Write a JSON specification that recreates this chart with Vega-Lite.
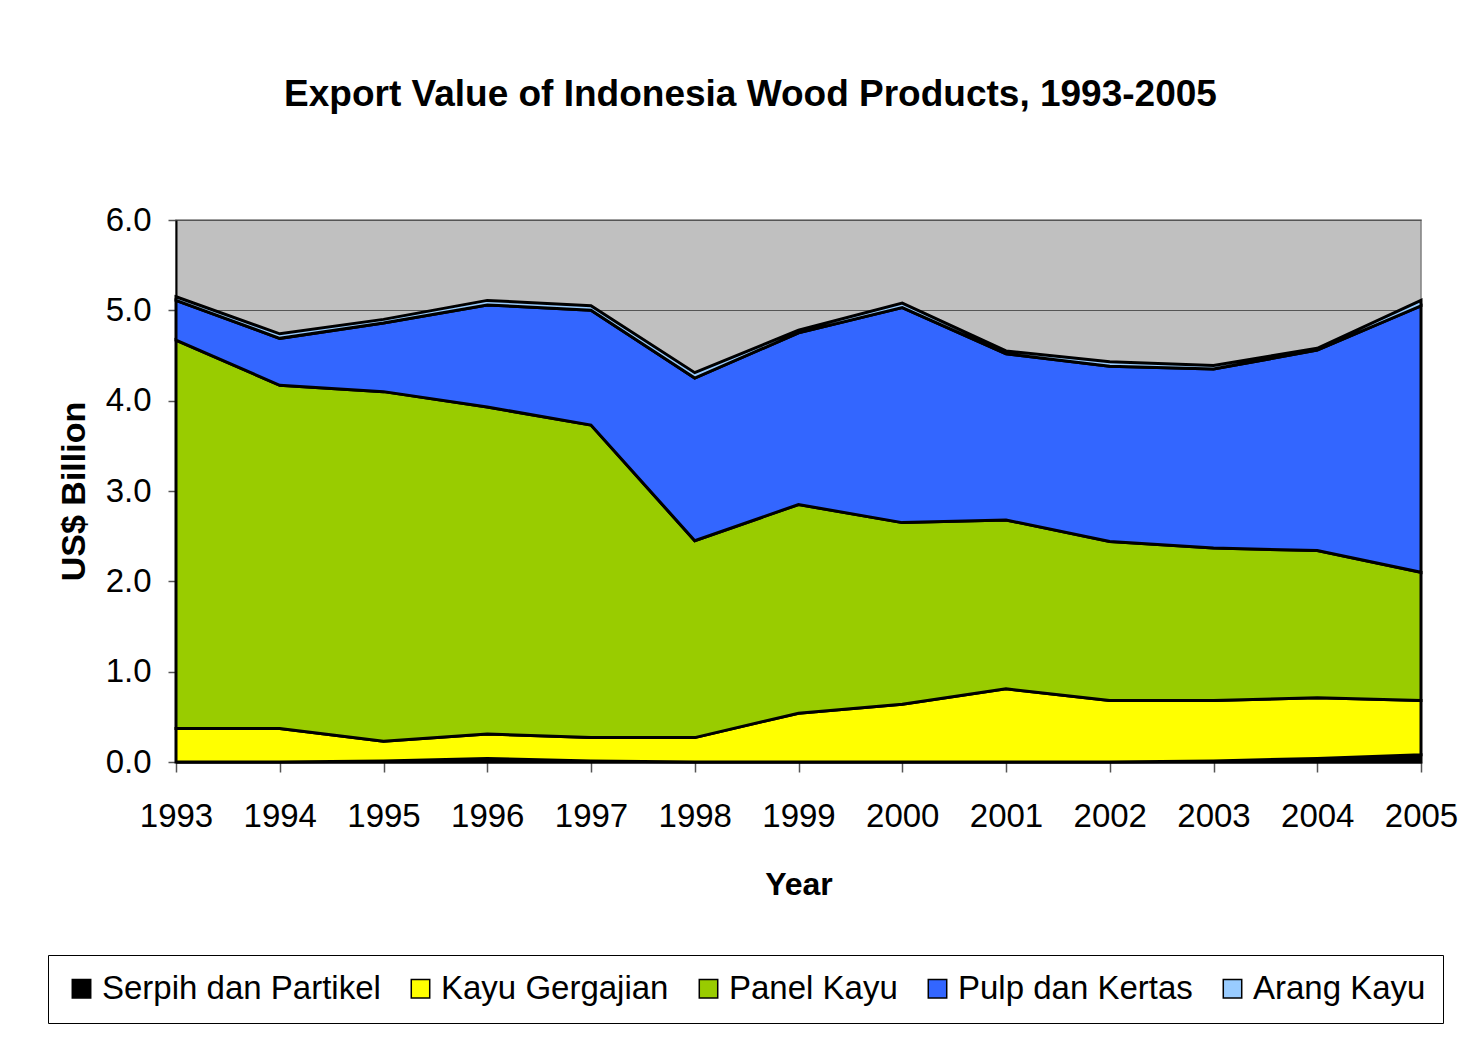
{
  "$schema": "https://vega.github.io/schema/vega-lite/v6.json",
  "width": 1245,
  "height": 542,
  "autosize": {"type": "none"},
  "padding": {"left": 176, "top": 220, "right": 58, "bottom": 277},
  "background": "white",
  "title": {
    "text": "Export Value of Indonesia Wood Products, 1993-2005",
    "anchor": "middle",
    "frame": "group",
    "dx": -48,
    "offset": 53,
    "baseline": "bottom",
    "font": "Liberation Sans",
    "fontSize": 37,
    "fontWeight": "bold",
    "color": "black"
  },
  "data": {
    "values": [
      {"Year": "1993", "Product": "Serpih dan Partikel", "Value": 0.0},
      {"Year": "1994", "Product": "Serpih dan Partikel", "Value": 0.0},
      {"Year": "1995", "Product": "Serpih dan Partikel", "Value": 0.01},
      {"Year": "1996", "Product": "Serpih dan Partikel", "Value": 0.04},
      {"Year": "1997", "Product": "Serpih dan Partikel", "Value": 0.01},
      {"Year": "1998", "Product": "Serpih dan Partikel", "Value": 0.0},
      {"Year": "1999", "Product": "Serpih dan Partikel", "Value": 0.0},
      {"Year": "2000", "Product": "Serpih dan Partikel", "Value": 0.0},
      {"Year": "2001", "Product": "Serpih dan Partikel", "Value": 0.0},
      {"Year": "2002", "Product": "Serpih dan Partikel", "Value": 0.0},
      {"Year": "2003", "Product": "Serpih dan Partikel", "Value": 0.01},
      {"Year": "2004", "Product": "Serpih dan Partikel", "Value": 0.04},
      {"Year": "2005", "Product": "Serpih dan Partikel", "Value": 0.08},
      {"Year": "1993", "Product": "Kayu Gergajian", "Value": 0.37},
      {"Year": "1994", "Product": "Kayu Gergajian", "Value": 0.37},
      {"Year": "1995", "Product": "Kayu Gergajian", "Value": 0.22},
      {"Year": "1996", "Product": "Kayu Gergajian", "Value": 0.27},
      {"Year": "1997", "Product": "Kayu Gergajian", "Value": 0.26},
      {"Year": "1998", "Product": "Kayu Gergajian", "Value": 0.27},
      {"Year": "1999", "Product": "Kayu Gergajian", "Value": 0.54},
      {"Year": "2000", "Product": "Kayu Gergajian", "Value": 0.64},
      {"Year": "2001", "Product": "Kayu Gergajian", "Value": 0.81},
      {"Year": "2002", "Product": "Kayu Gergajian", "Value": 0.68},
      {"Year": "2003", "Product": "Kayu Gergajian", "Value": 0.67},
      {"Year": "2004", "Product": "Kayu Gergajian", "Value": 0.67},
      {"Year": "2005", "Product": "Kayu Gergajian", "Value": 0.60},
      {"Year": "1993", "Product": "Panel Kayu", "Value": 4.30},
      {"Year": "1994", "Product": "Panel Kayu", "Value": 3.80},
      {"Year": "1995", "Product": "Panel Kayu", "Value": 3.87},
      {"Year": "1996", "Product": "Panel Kayu", "Value": 3.62},
      {"Year": "1997", "Product": "Panel Kayu", "Value": 3.46},
      {"Year": "1998", "Product": "Panel Kayu", "Value": 2.18},
      {"Year": "1999", "Product": "Panel Kayu", "Value": 2.31},
      {"Year": "2000", "Product": "Panel Kayu", "Value": 2.01},
      {"Year": "2001", "Product": "Panel Kayu", "Value": 1.87},
      {"Year": "2002", "Product": "Panel Kayu", "Value": 1.76},
      {"Year": "2003", "Product": "Panel Kayu", "Value": 1.69},
      {"Year": "2004", "Product": "Panel Kayu", "Value": 1.63},
      {"Year": "2005", "Product": "Panel Kayu", "Value": 1.42},
      {"Year": "1993", "Product": "Pulp dan Kertas", "Value": 0.44},
      {"Year": "1994", "Product": "Pulp dan Kertas", "Value": 0.52},
      {"Year": "1995", "Product": "Pulp dan Kertas", "Value": 0.76},
      {"Year": "1996", "Product": "Pulp dan Kertas", "Value": 1.13},
      {"Year": "1997", "Product": "Pulp dan Kertas", "Value": 1.27},
      {"Year": "1998", "Product": "Pulp dan Kertas", "Value": 1.80},
      {"Year": "1999", "Product": "Pulp dan Kertas", "Value": 1.90},
      {"Year": "2000", "Product": "Pulp dan Kertas", "Value": 2.38},
      {"Year": "2001", "Product": "Pulp dan Kertas", "Value": 1.84},
      {"Year": "2002", "Product": "Pulp dan Kertas", "Value": 1.94},
      {"Year": "2003", "Product": "Pulp dan Kertas", "Value": 1.98},
      {"Year": "2004", "Product": "Pulp dan Kertas", "Value": 2.22},
      {"Year": "2005", "Product": "Pulp dan Kertas", "Value": 2.95},
      {"Year": "1993", "Product": "Arang Kayu", "Value": 0.04},
      {"Year": "1994", "Product": "Arang Kayu", "Value": 0.05},
      {"Year": "1995", "Product": "Arang Kayu", "Value": 0.04},
      {"Year": "1996", "Product": "Arang Kayu", "Value": 0.05},
      {"Year": "1997", "Product": "Arang Kayu", "Value": 0.05},
      {"Year": "1998", "Product": "Arang Kayu", "Value": 0.06},
      {"Year": "1999", "Product": "Arang Kayu", "Value": 0.03},
      {"Year": "2000", "Product": "Arang Kayu", "Value": 0.05},
      {"Year": "2001", "Product": "Arang Kayu", "Value": 0.03},
      {"Year": "2002", "Product": "Arang Kayu", "Value": 0.05},
      {"Year": "2003", "Product": "Arang Kayu", "Value": 0.04},
      {"Year": "2004", "Product": "Arang Kayu", "Value": 0.02},
      {"Year": "2005", "Product": "Arang Kayu", "Value": 0.06}
    ]
  },
  "transform": [
    {"calculate": "indexof(['Serpih dan Partikel', 'Kayu Gergajian', 'Panel Kayu', 'Pulp dan Kertas', 'Arang Kayu'], datum.Product)", "as": "StackOrder"}
  ],
  "mark": {"type": "area", "stroke": "black", "strokeWidth": 3, "strokeJoin": "miter", "line": false, "opacity": 1},
  "encoding": {
    "x": {
      "field": "Year",
      "type": "ordinal",
      "scale": {"type": "point", "padding": 0},
      "axis": {
        "title": "Year",
        "labelAngle": 0,
        "labelFont": "Liberation Sans",
        "labelFontSize": 33,
        "labelColor": "black",
        "labelPadding": 28,
        "tickSize": 10,
        "tickColor": "#555555",
        "tickWidth": 1.5,
        "domainColor": "black",
        "domainWidth": 2,
        "grid": false,
        "titleFont": "Liberation Sans",
        "titleFontSize": 32,
        "titleFontWeight": "bold",
        "titleColor": "black",
        "titlePadding": 36
      }
    },
    "y": {
      "field": "Value",
      "type": "quantitative",
      "stack": "zero",
      "scale": {"domain": [0, 6], "nice": false},
      "axis": {
        "title": "US$ Billion",
        "values": [0, 1, 2, 3, 4, 5, 6],
        "format": ".1f",
        "labelFont": "Liberation Sans",
        "labelFontSize": 33,
        "labelColor": "black",
        "labelPadding": 17,
        "tickSize": 8,
        "tickColor": "#555555",
        "tickWidth": 1.5,
        "domainColor": "black",
        "domainWidth": 2,
        "grid": true,
        "gridColor": "#555555",
        "gridWidth": 1,
        "titleFont": "Liberation Sans",
        "titleFontSize": 34,
        "titleFontWeight": "bold",
        "titleColor": "black",
        "titlePadding": 14
      }
    },
    "order": {"field": "StackOrder", "type": "quantitative", "sort": "ascending"},
    "color": {
      "field": "Product",
      "type": "nominal",
      "sort": ["Serpih dan Partikel", "Kayu Gergajian", "Panel Kayu", "Pulp dan Kertas", "Arang Kayu"],
      "scale": {
        "domain": ["Serpih dan Partikel", "Kayu Gergajian", "Panel Kayu", "Pulp dan Kertas", "Arang Kayu"],
        "range": ["#000000", "#FFFF00", "#99CC00", "#3366FF", "#99CCFF"]
      },
      "legend": {
        "title": null,
        "orient": "none",
        "legendX": -128,
        "legendY": 735,
        "direction": "horizontal",
        "columns": 5,
        "columnPadding": 23,
        "padding": 17,
        "strokeColor": "black",
        "fillColor": "white",
        "symbolType": "square",
        "symbolSize": 340,
        "symbolStrokeColor": "black",
        "symbolStrokeWidth": 1.5,
        "symbolOpacity": 1,
        "labelFont": "Liberation Sans",
        "labelFontSize": 33,
        "labelColor": "black",
        "labelOffset": 4,
        "labelLimit": 400
      }
    }
  },
  "config": {
    "view": {"fill": "#C0C0C0", "stroke": "#808080", "strokeWidth": 1.5}
  }
}
